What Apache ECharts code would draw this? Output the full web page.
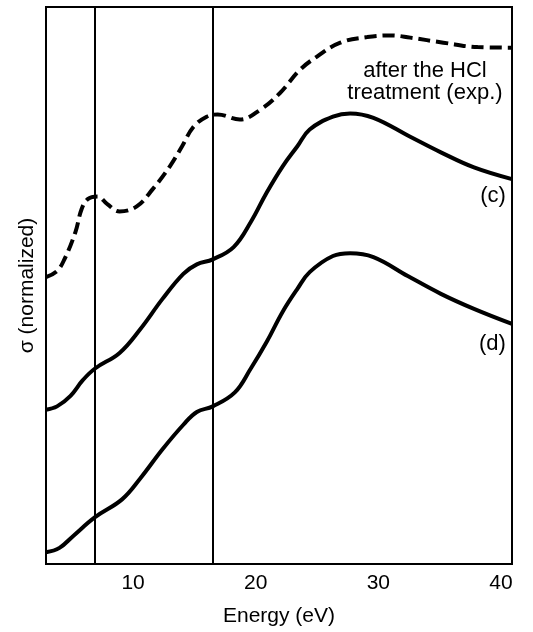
<!DOCTYPE html>
<html>
<head>
<meta charset="utf-8">
<script src="https://cdn.jsdelivr.net/npm/echarts@6/dist/echarts.min.js"></script>
<style>
  html, body { margin: 0; padding: 0; background: #fff; }
  #chart { width: 533px; height: 632px; }
</style>
</head>
<body>
<div id="chart"></div>
<script>
// 数据：能量 (eV) 与归一化截面 (任意单位 0-100)
const expData = [
  [2.9, 51.5], [3.8, 52.6], [4.4, 54.7], [5.3, 59.6], [5.8, 63.7], [6.3, 65.5],
  [7.1, 66.0], [7.9, 64.6], [8.9, 63.3], [10.3, 64.2], [11.6, 67.3], [13.0, 71.4],
  [14.0, 75.0], [14.9, 78.4], [16.0, 80.3], [16.9, 80.7], [18.7, 79.8], [20.4, 81.6],
  [22.0, 84.6], [23.6, 88.7], [25.0, 91.1], [26.9, 93.6], [29.1, 94.6], [31.0, 94.9],
  [32.6, 94.5], [35.3, 93.6], [38.1, 92.8], [40.9, 92.7]
];
const curveC = [
  [2.9, 27.7], [3.8, 28.3], [4.9, 30.2], [5.9, 33.0], [6.9, 35.1], [8.9, 37.9],
  [10.6, 42.2], [12.4, 47.6], [14.1, 52.1], [15.2, 53.8], [16.5, 54.7], [18.2, 56.9],
  [19.6, 61.4], [20.9, 66.7], [22.2, 71.4], [23.4, 75.0], [24.4, 78.0], [26.3, 80.3],
  [27.7, 80.9], [29.6, 80.1], [32.6, 76.7], [35.1, 73.9], [37.8, 71.2], [40.9, 69.1]
];
const curveD = [
  [2.9, 2.1], [4.0, 2.9], [5.1, 5.0], [6.9, 8.4], [9.1, 11.6], [10.6, 15.4],
  [12.4, 20.6], [14.1, 25.0], [15.2, 27.3], [16.5, 28.3], [18.3, 30.8], [19.6, 35.1],
  [20.9, 39.9], [22.2, 45.3], [23.4, 49.4], [24.4, 52.4], [26.3, 55.3], [27.7, 55.8],
  [29.6, 55.1], [32.4, 51.7], [35.1, 48.5], [37.8, 45.8], [40.9, 43.1]
];
const markerLines = [6.9, 16.5];
const xTickLabels = [10, 20, 30, 40];

const chart = echarts.init(document.getElementById('chart'));
const FONT = 'Liberation Sans';

const lineBase = {
  type: 'line',
  smooth: 0.4,
  symbol: 'none',
  clip: true,
  lineStyle: { color: '#000', width: 4 }
};

// 文字标注（用不可见的 markPoint 承载）
function textMark(coord, text, align) {
  return {
    symbol: 'circle',
    symbolSize: 1,
    itemStyle: { color: 'rgba(0,0,0,0)' },
    data: [{
      coord: coord,
      label: {
        show: true,
        position: 'inside',
        formatter: text,
        fontFamily: FONT, fontSize: 22, color: '#000',
        lineHeight: 22, align: align, verticalAlign: 'middle'
      }
    }]
  };
}

const option = {
  backgroundColor: '#fff',
  animation: false,
  textStyle: { fontFamily: FONT, color: '#000' },
  grid: {
    left: 46, right: 21, top: 7, bottom: 66,
    show: true, borderColor: '#000', borderWidth: 2, backgroundColor: 'transparent'
  },
  xAxis: {
    type: 'value',
    min: 2.9,
    max: 40.9,
    name: 'Energy (eV)',
    nameLocation: 'middle',
    nameGap: 42,
    nameTextStyle: { fontFamily: FONT, fontSize: 21, color: '#000' },
    axisLine: { show: false },
    axisTick: { show: false },
    splitLine: { show: false },
    axisLabel: {
      customValues: xTickLabels,
      fontFamily: FONT, fontSize: 21, color: '#000', margin: 9
    }
  },
  yAxis: {
    type: 'value',
    min: 0,
    max: 100,
    name: 'σ (normalized)',
    nameLocation: 'middle',
    nameGap: 8,
    nameTextStyle: { fontFamily: FONT, fontSize: 21, color: '#000' },
    axisLine: { show: false },
    axisTick: { show: false },
    axisLabel: { show: false },
    splitLine: { show: false }
  },
  series: [
    Object.assign({}, lineBase, {
      name: 'exp',
      data: expData,
      lineStyle: { color: '#000', width: 4, type: [12, 6] },
      markLine: {
        silent: true,
        symbol: 'none',
        label: { show: false },
        lineStyle: { color: '#000', width: 2, type: 'solid' },
        data: markerLines.map(v => ({ xAxis: v }))
      },
      markPoint: textMark([33.8, 86.6], 'after the HCl\ntreatment (exp.)', 'center')
    }),
    Object.assign({}, lineBase, {
      name: '(c)',
      data: curveC,
      markPoint: textMark([40.4, 66.0], '(c)', 'right')
    }),
    Object.assign({}, lineBase, {
      name: '(d)',
      data: curveD,
      markPoint: textMark([40.4, 39.5], '(d)', 'right')
    })
  ]
};

chart.setOption(option);

window.addEventListener('resize', () => {
  chart.resize();
});
</script>
</body>
</html>
